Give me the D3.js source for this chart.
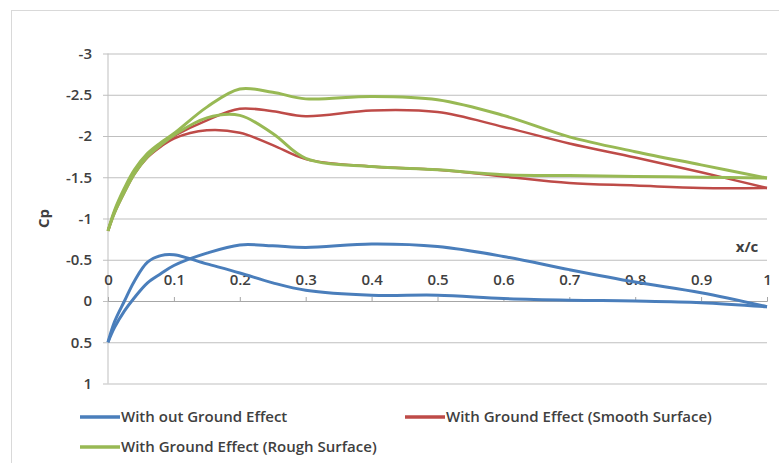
<!DOCTYPE html>
<html>
<head>
<meta charset="utf-8">
<script src="https://cdn.jsdelivr.net/npm/d3@7"></script>
<style>
  body { margin: 0; background: #fff; }
  text { font-family: "Open Sans", sans-serif; fill: #404040; }
</style>
</head>
<body>
<div id="graph"></div>
<script>
// x/c stations shared by every branch
const xStations = [0, 0.01, 0.025, 0.04, 0.06, 0.08, 0.1, 0.15, 0.2, 0.25, 0.3, 0.4, 0.5, 0.6, 0.7, 0.8, 0.9, 1.0];

// Cp values, two branches per case
const noGroundA = [0.5, 0.25, 0.0, -0.24, -0.47, -0.55, -0.56, -0.45, -0.34, -0.22, -0.13, -0.07, -0.07, -0.03, -0.01, 0.0, 0.02, 0.07];
const noGroundB = [0.5, 0.32, 0.12, -0.04, -0.22, -0.33, -0.43, -0.58, -0.68, -0.67, -0.65, -0.69, -0.66, -0.54, -0.38, -0.23, -0.1, 0.07];
const smoothUpper = [-0.85, -1.09, -1.35, -1.57, -1.77, -1.9, -2.0, -2.19, -2.33, -2.3, -2.24, -2.31, -2.29, -2.11, -1.91, -1.74, -1.56, -1.37];
const smoothLower = [-0.85, -1.07, -1.32, -1.54, -1.74, -1.87, -1.97, -2.07, -2.04, -1.89, -1.72, -1.63, -1.59, -1.51, -1.43, -1.4, -1.37, -1.37];
const roughUpper = [-0.85, -1.1, -1.37, -1.59, -1.79, -1.92, -2.03, -2.35, -2.57, -2.53, -2.45, -2.48, -2.44, -2.25, -1.99, -1.81, -1.65, -1.49];
const roughLower = [-0.85, -1.07, -1.32, -1.54, -1.75, -1.89, -2.01, -2.22, -2.25, -2.03, -1.73, -1.63, -1.59, -1.53, -1.52, -1.51, -1.5, -1.49];

const yTicks = [-3, -2.5, -2, -1.5, -1, -0.5, 0, 0.5, 1];
const xTicks = [0, 0.1, 0.2, 0.3, 0.4, 0.5, 0.6, 0.7, 0.8, 0.9, 1];
const seriesNames = ["With out Ground Effect", "With Ground Effect (Smooth Surface)", "With Ground Effect (Rough Surface)"];
const seriesColors = ["#4a7ebb", "#be4b48", "#98b954"];

const W = 779, H = 463;
const plot = {left: 108, right: 767, top: 53.5, bottom: 383.5};

const x = d3.scaleLinear().domain([0, 1]).range([plot.left, plot.right]);
const y = d3.scaleLinear().domain([-3, 1]).range([plot.top, plot.bottom]);

const svg = d3.select("#graph")
    .append("svg")
    .attr("width", W)
    .attr("height", H);

// chart frame
svg.append("rect")
    .attr("x", 11.5).attr("y", 10.5)
    .attr("width", 820).attr("height", 520)
    .attr("fill", "none")
    .attr("stroke", "#d9d9d9");

// horizontal gridlines + y labels
svg.append("g")
    .attr("transform", "translate(" + plot.left + ",0)")
    .call(d3.axisLeft(y).tickValues(yTicks).tickFormat(d => String(d))
        .tickSize(-(plot.right - plot.left)).tickPadding(16))
    .call(g => g.select(".domain").remove())
    .call(g => g.selectAll(".tick line").attr("stroke", "#bfbfbf").attr("x1", -5))
    .call(g => g.selectAll(".tick text").attr("font-size", 15).attr("font-weight", 600)
        .attr("fill", "#4d4d4d").style("font-family", "Open Sans, sans-serif"));

// y axis line
svg.append("line")
    .attr("x1", plot.left).attr("x2", plot.left)
    .attr("y1", y(-3)).attr("y2", y(1))
    .attr("stroke", "#bfbfbf");

// x axis at Cp = 0, labels sit above it
svg.append("g")
    .attr("transform", "translate(0," + y(0) + ")")
    .call(d3.axisTop(x).tickValues(xTicks).tickFormat(d => String(d)).tickSize(4).tickPadding(12))
    .call(g => g.selectAll("line, path").attr("stroke", "#a6a6a6"))
    .call(g => g.selectAll(".tick text").attr("font-size", 15).attr("font-weight", 600)
        .attr("fill", "#4d4d4d").style("font-family", "Open Sans, sans-serif"));

svg.append("text")
    .attr("x", 747).attr("y", y(-0.6))
    .attr("text-anchor", "middle")
    .attr("font-size", 15)
    .attr("font-weight", 700)
    .attr("fill", "#4d4d4d")
    .text("x/c");

svg.append("text")
    .attr("transform", "translate(44," + y(-1) + ") rotate(-90)")
    .attr("text-anchor", "middle")
    .attr("dy", "0.35em")
    .attr("font-size", 15)
    .attr("font-weight", 700)
    .attr("fill", "#4d4d4d")
    .text("Cp");

const line = d3.line()
    .x(d => x(d[0]))
    .y(d => y(d[1]))
    .curve(d3.curveCatmullRom.alpha(0.5));

const branches = [
    [noGroundA, 0], [noGroundB, 0],
    [smoothUpper, 1], [smoothLower, 1],
    [roughUpper, 2], [roughLower, 2]
];

svg.append("g")
    .selectAll("path")
    .data(branches)
    .enter().append("path")
    .attr("fill", "none")
    .attr("stroke", d => seriesColors[d[1]])
    .attr("stroke-width", d => d[1] === 1 ? 2.5 : 3)
    .attr("stroke-linejoin", "round")
    .attr("d", d => line(xStations.map((xv, i) => [xv, d[0][i]])));

// legend
const legendPos = [[80, 417], [405, 417], [80, 447]];
const legend = svg.append("g")
    .selectAll("g")
    .data(seriesNames)
    .enter().append("g")
    .attr("transform", (d, i) => "translate(" + legendPos[i][0] + "," + legendPos[i][1] + ")");

legend.append("line")
    .attr("x1", 0).attr("x2", 40)
    .attr("stroke", (d, i) => seriesColors[i])
    .attr("stroke-width", 3.5);

legend.append("text")
    .attr("x", 41).attr("dy", "0.35em")
    .attr("font-size", 15)
    .attr("font-weight", 600)
    .attr("fill", "#4d4d4d")
    .text(d => d);
</script>
</body>
</html>
